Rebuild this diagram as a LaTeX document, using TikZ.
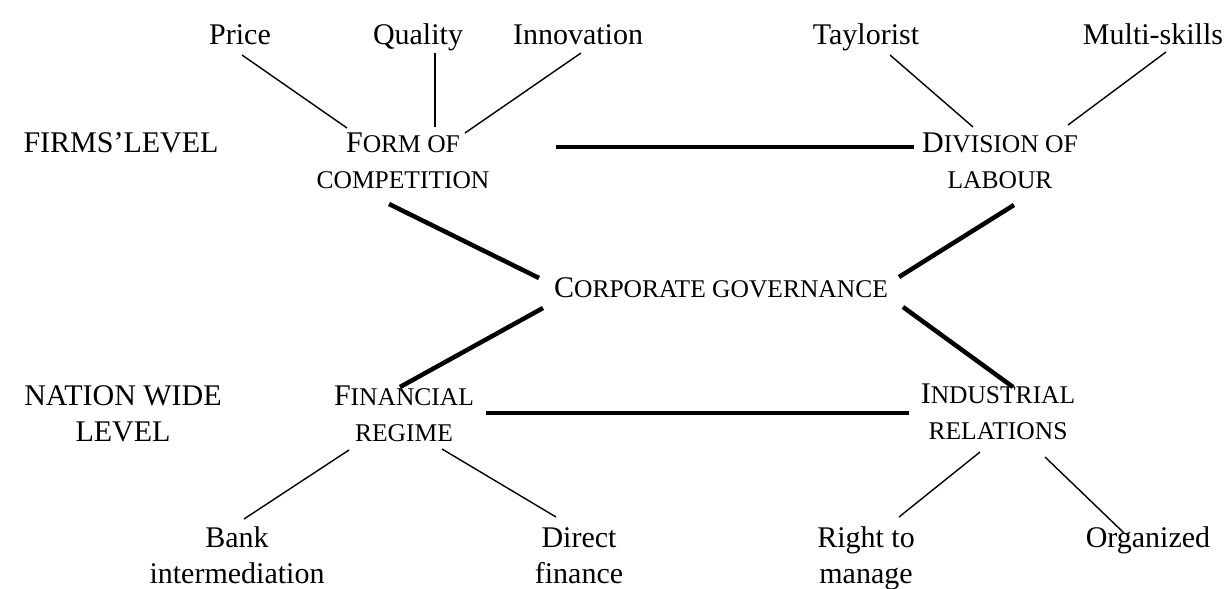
\documentclass[tikz,border=0pt]{standalone}
\usepackage{fontspec}
\setmainfont{Liberation Serif}
\newcommand\smcp[1]{{\fontsize{25.5}{36}\selectfont #1}}
\begin{document}
\begin{tikzpicture}[x=1pt,y=-1pt,
  lbl/.style={font=\fontsize{30}{36}\selectfont, inner sep=0pt, anchor=base, align=center},
  thinline/.style={line width=1.4pt},
  thickline/.style={line width=4.5pt}]
\useasboundingbox (0,0) rectangle (1224,589);
% top row
\node[lbl] (price) at (240,44) {Price};
\node[lbl] (quality) at (418,44) {Quality};
\node[lbl] (innov) at (578,44) {Innovation};
\node[lbl] (taylor) at (866,44) {Taylorist};
\node[lbl] (multi) at (1153,44) {Multi-skills};
% firms level (base anchor = last line's baseline)
\node[lbl] (firms) at (121,152) {FIRMS’LEVEL};
\node[lbl] (form) at (403,188) {F\smcp{ORM OF}\\\smcp{COMPETITION}};
\node[lbl] (div) at (1000,188) {D\smcp{IVISION OF}\\\smcp{LABOUR}};
% centre
\node[lbl] (cg) at (721,297) {C\smcp{ORPORATE GOVERNANCE}};
% nation level
\node[lbl] (nation) at (123,441) {NATION WIDE\\LEVEL};
\node[lbl] (fin) at (404,441) {F\smcp{INANCIAL}\\\smcp{REGIME}};
\node[lbl] (ind) at (998,439) {I\smcp{NDUSTRIAL}\\\smcp{RELATIONS}};
% bottom row
\node[lbl] (bank) at (237,583) {Bank\\intermediation};
\node[lbl] (direct) at (579,583) {Direct\\finance};
\node[lbl] (right) at (866,583) {Right to\\manage};
\node[lbl] (org) at (1148,547) {Organized};
% thin connectors
\draw[thinline] ([shift={(2,11)}]price.base) -- ([shift={(-56,-60)}]form.base);
\draw[thinline] ([shift={(17,9)}]quality.base) -- ([shift={(32,-61)}]form.base);
\draw[thinline] ([shift={(3,9)}]innov.base) -- ([shift={(62,-55)}]form.base);
\draw[thinline] ([shift={(24,11)}]taylor.base) -- ([shift={(-27,-61)}]div.base);
\draw[thinline] ([shift={(13,8)}]multi.base) -- ([shift={(68,-63)}]div.base);
\draw[thinline] ([shift={(-55,9)}]fin.base) -- ([shift={(7,-64)}]bank.base);
\draw[thinline] ([shift={(38,8)}]fin.base) -- ([shift={(-23,-66)}]direct.base);
\draw[thinline] ([shift={(-18,13)}]ind.base) -- ([shift={(33,-66)}]right.base);
\draw[thinline] ([shift={(47,18)}]ind.base) -- ([shift={(-24,-14)}]org.base);
% thick connectors
\draw[thickline] ([shift={(153,-41)}]form.base) -- ([shift={(-86,-41)}]div.base);
\draw[thickline] ([shift={(-14,16)}]form.base) -- ([shift={(-182,-19)}]cg.base);
\draw[thickline] ([shift={(-178,11)}]cg.base) -- ([shift={(-4,-54)}]fin.base);
\draw[thickline] ([shift={(178,-20)}]cg.base) -- ([shift={(14,17)}]div.base);
\draw[thickline] ([shift={(182,10)}]cg.base) -- ([shift={(15,-52)}]ind.base);
\draw[thickline] ([shift={(82,-28)}]fin.base) -- ([shift={(-89,-26)}]ind.base);
\end{tikzpicture}
\end{document}
